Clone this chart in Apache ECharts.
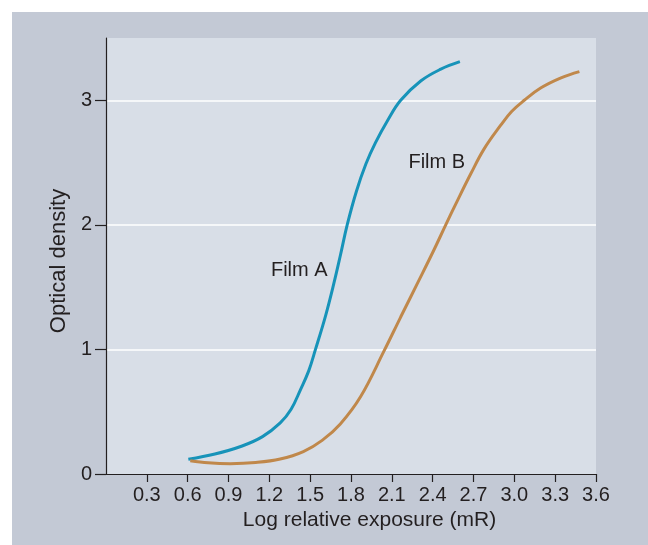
<!DOCTYPE html>
<html>
<head>
<meta charset="utf-8">
<script src="https://cdn.jsdelivr.net/npm/echarts@6/dist/echarts.min.js"></script>
<style>
  html, body { margin: 0; padding: 0; background: #ffffff; }
  #chart { width: 648px; height: 545px; }
</style>
</head>
<body>
<div id="chart"></div>
<script>
// Characteristic (H&D) curves: optical density vs. log relative exposure
const filmA = [
  [0.605, 0.118], [0.80, 0.16], [1.00, 0.225], [1.15, 0.30], [1.28, 0.41],
  [1.36, 0.52], [1.43, 0.68], [1.49, 0.83], [1.539, 1.0], [1.613, 1.27],
  [1.674, 1.53], [1.723, 1.76], [1.772, 2.0], [1.84, 2.27], [1.91, 2.49],
  [1.98, 2.66], [2.07, 2.84], [2.165, 3.0], [2.312, 3.155], [2.46, 3.25],
  [2.60, 3.31]
];
const filmB = [
  [0.619, 0.107], [0.75, 0.09], [0.913, 0.083], [1.10, 0.092], [1.28, 0.12],
  [1.45, 0.18], [1.588, 0.27], [1.72, 0.40], [1.87, 0.62], [2.042, 0.986],
  [2.165, 1.26], [2.288, 1.53], [2.41, 1.80], [2.496, 2.0], [2.582, 2.195],
  [2.68, 2.41], [2.778, 2.61], [2.90, 2.80], [2.98, 2.91], [3.073, 3.0],
  [3.196, 3.10], [3.343, 3.18], [3.478, 3.23]
];
const xTicks = [0.3, 0.6, 0.9, 1.2, 1.5, 1.8, 2.1, 2.4, 2.7, 3.0, 3.3, 3.6];
const yTicks = [0, 1, 2, 3];
const curveLabels = [
  { text: 'Film A', at: [1.42, 1.635] },
  { text: 'Film B', at: [2.43, 2.50] }
];

const ink = '#231f20';
const font = 'Liberation Sans, Arial, Helvetica, sans-serif';

const chart = echarts.init(document.getElementById('chart'), null, { renderer: 'canvas' });

const panel = {
  type: 'rect', z: -10, silent: true,
  shape: { x: 12, y: 12, width: 636, height: 533 },
  style: { fill: '#c3c9d5' }
};

chart.setOption({
  animation: false,
  backgroundColor: '#ffffff',
  graphic: [panel],
  grid: {
    left: 106, right: 52, top: 38, bottom: 71,
    show: true, backgroundColor: '#d8dee7', borderWidth: 0
  },
  xAxis: {
    type: 'value', min: 0, max: 3.6, interval: 0.3,
    name: 'Log relative exposure (mR)',
    nameLocation: 'middle', nameGap: 36,
    nameTextStyle: { color: ink, fontSize: 21, fontFamily: font, padding: [0, 0, 0, 37] },
    axisLine: { show: true, lineStyle: { color: ink, width: 1.2 } },
    axisTick: { show: true, length: 8, customValues: xTicks, lineStyle: { color: ink, width: 1.2 } },
    axisLabel: {
      color: ink, fontSize: 20, fontFamily: font, margin: 11,
      customValues: xTicks,
      formatter: v => Number(v).toFixed(1)
    },
    splitLine: { show: false }
  },
  yAxis: {
    type: 'value', min: 0, max: 3.5, interval: 1,
    name: 'Optical density',
    nameLocation: 'middle', nameGap: 35,
    nameTextStyle: { color: ink, fontSize: 22, fontFamily: font, padding: [0, 10, 0, 0] },
    axisLine: { show: true, lineStyle: { color: ink, width: 1.2 } },
    axisTick: { show: true, length: 11, customValues: yTicks, lineStyle: { color: ink, width: 1.2 } },
    axisLabel: { color: ink, fontSize: 20, fontFamily: font, margin: 14, customValues: yTicks },
    splitLine: {
      show: true, showMinLine: false, showMaxLine: true,
      lineStyle: { color: '#ffffff', width: 1.5 }
    }
  },
  series: [
    {
      name: 'Film A', type: 'line', data: filmA, smooth: 0.4,
      showSymbol: false, symbol: 'none',
      lineStyle: { color: '#1793b9', width: 3, cap: 'butt' }
    },
    {
      name: 'Film B', type: 'line', data: filmB, smooth: 0.4,
      showSymbol: false, symbol: 'none',
      lineStyle: { color: '#c0884b', width: 3, cap: 'butt' }
    }
  ]
});

// Curve names placed at data coordinates next to each curve
const texts = curveLabels.map(l => {
  const p = chart.convertToPixel({ gridIndex: 0 }, l.at);
  return {
    type: 'text', z: 10, silent: true,
    x: p[0], y: p[1],
    style: {
      text: l.text, fill: ink, fontSize: 20, fontFamily: font,
      align: 'center', verticalAlign: 'middle'
    }
  };
});
chart.setOption({ graphic: [panel].concat(texts) });
</script>
</body>
</html>
